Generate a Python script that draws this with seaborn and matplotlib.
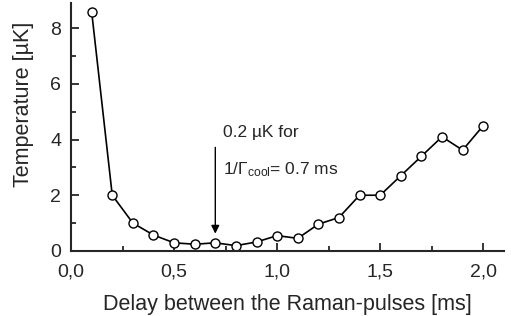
import matplotlib
matplotlib.use("Agg")
import matplotlib.pyplot as plt
from matplotlib.ticker import MultipleLocator, FuncFormatter
import seaborn as sns
import pandas as pd

# data
delay_ms = [0.1, 0.2, 0.3, 0.4, 0.5, 0.6, 0.7, 0.8, 0.9, 1.0,
            1.1, 1.2, 1.3, 1.4, 1.5, 1.6, 1.7, 1.8, 1.9, 2.0]
temp_uK = [8.6, 2.0, 1.0, 0.57, 0.29, 0.24, 0.29, 0.19, 0.32, 0.55,
           0.45, 0.96, 1.2, 2.0, 2.0, 2.7, 3.4, 4.1, 3.62, 4.5]

df = pd.DataFrame({"delay": delay_ms, "temp": temp_uK})

sns.set_style("ticks")
plt.rcParams["font.family"] = ["Liberation Sans", "DejaVu Sans"]
plt.rcParams["mathtext.fontset"] = "custom"
plt.rcParams["mathtext.rm"] = "Liberation Sans"
plt.rcParams["mathtext.it"] = "Liberation Sans"

fig = plt.figure(figsize=(5.11, 3.16), dpi=100)
ax = fig.add_axes([0.139, 0.206, 0.847, 0.784])

sns.lineplot(data=df, x="delay", y="temp", ax=ax, color="black", linewidth=1.2,
             marker="o", markersize=6.5, markerfacecolor="white",
             markeredgecolor="black", markeredgewidth=1.0)

ax.set_xlim(0, 2.1)
ax.set_ylim(0, 8.9)
ax.xaxis.set_major_locator(MultipleLocator(0.5))
ax.xaxis.set_minor_locator(MultipleLocator(0.25))
ax.yaxis.set_major_locator(MultipleLocator(2))
ax.yaxis.set_minor_locator(MultipleLocator(1))
ax.xaxis.set_major_formatter(FuncFormatter(lambda v, p: f"{v:.1f}".replace(".", ",")))
ax.yaxis.set_major_formatter(FuncFormatter(lambda v, p: f"{v:.0f}"))

ax.tick_params(which="both", direction="in", width=1.3, labelsize=14)
ax.tick_params(axis="x", pad=9)
ax.tick_params(axis="y", pad=7)
ax.tick_params(which="major", length=6)
ax.tick_params(which="minor", length=3.5)
for s in ["top", "right"]:
    ax.spines[s].set_visible(False)
for s in ["left", "bottom"]:
    ax.spines[s].set_linewidth(1.5)

ax.set_xlabel("Delay between the Raman-pulses [ms]", fontsize=15.5, labelpad=10)
ax.set_ylabel("Temperature [µK]", fontsize=15.5)
ax.yaxis.set_label_coords(-0.085, 0.59)

ax.annotate("", xy=(0.7, 0.62), xytext=(0.7, 3.72),
            arrowprops=dict(arrowstyle="-|>", color="black", lw=1.0,
                            mutation_scale=12, shrinkA=0, shrinkB=0))
ax.text(0.735, 4.26, "0.2 µK for", fontsize=12.5, va="center", ha="left")
ax.text(0.735, 2.93, r"1/$\Gamma_{\mathrm{cool}}$= 0.7 ms", fontsize=12.5,
        va="center", ha="left")

fig.savefig("out.png", dpi=100)
